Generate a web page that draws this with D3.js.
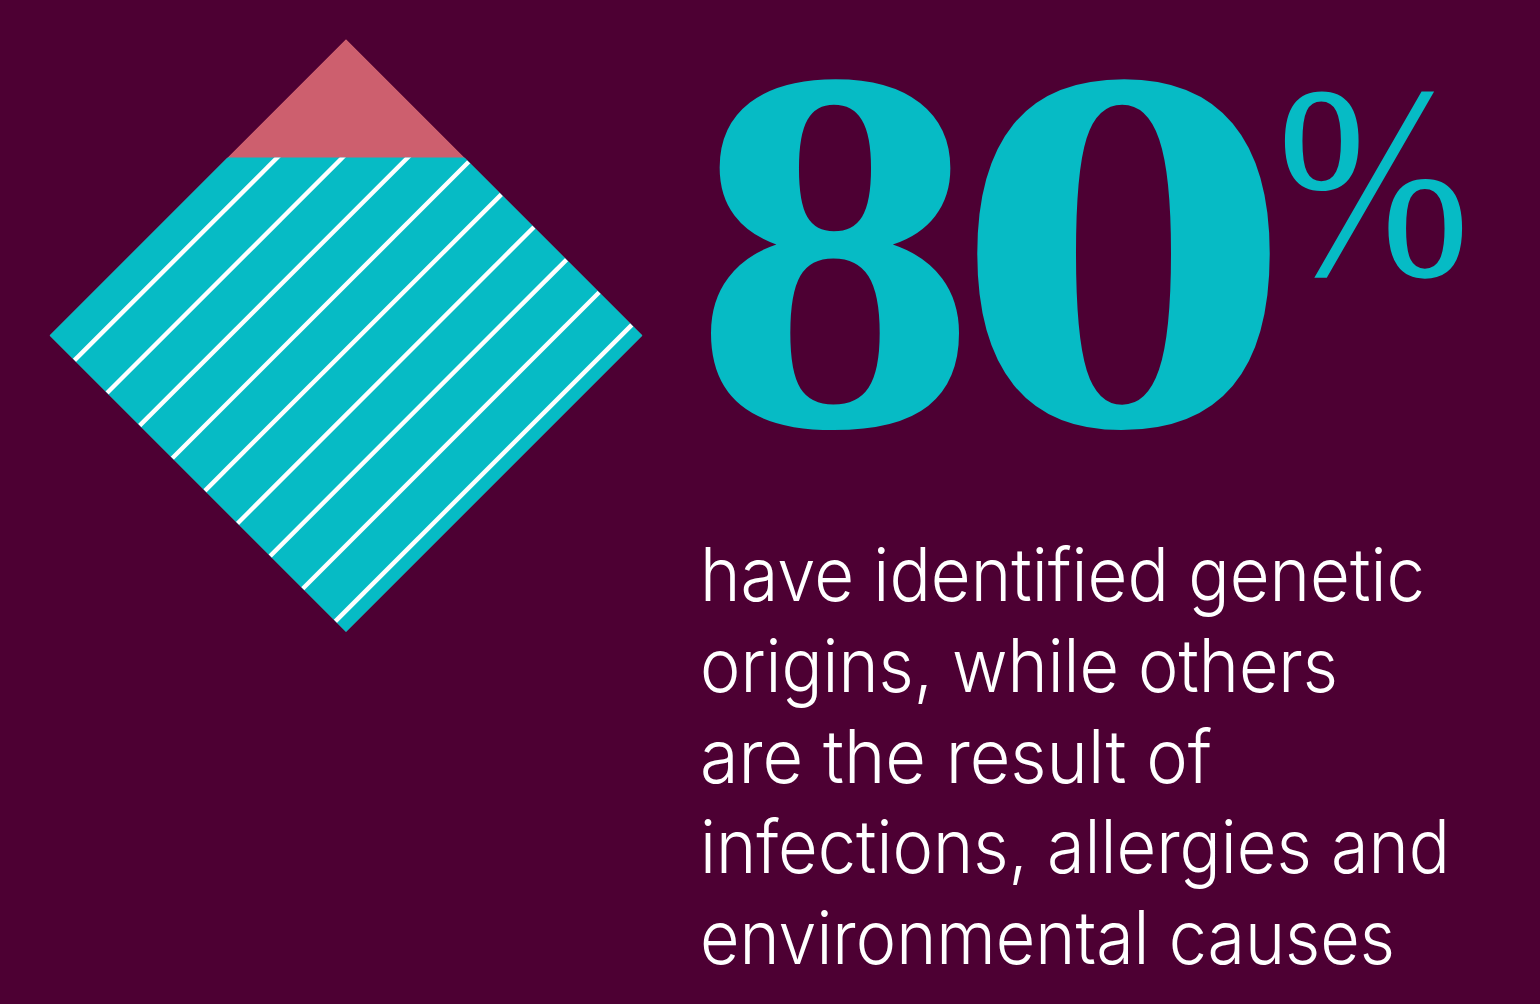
<!DOCTYPE html>
<html>
<head>
<meta charset="utf-8">
<script src="https://cdn.jsdelivr.net/npm/d3@7"></script>
<style>
  html, body { margin: 0; padding: 0; background: #4d0033; }
  svg { display: block; }
</style>
</head>
<body>
<svg id="chart" width="1540" height="1004"></svg>
<script>
// ---- data ----
const shareValue = 80;            // percent with identified genetic origins
const shareDigits = ["8", "0"];
const shareSymbol = "%";
const bodyLines = [
  "have identified genetic",
  "origins, while others",
  "are the result of",
  "infections, allergies and",
  "environmental causes"
];
const stripeCount = 9;

(function () {
// ---- styles ----
const BG = "#4d0033", CYAN = "#06bbc5", PINK = "#cd5f6e";

const svg = d3.select("#chart");
svg.append("rect").attr("width", 1540).attr("height", 1004).attr("fill", BG);

// diamond geometry
const cx = 346, cy = 335.5, half = 296.5;
const pTop = [cx, cy - half], pRight = [cx + half, cy], pBottom = [cx, cy + half], pLeft = [cx - half, cy];
const diamondD = d3.line()([pTop, pRight, pBottom, pLeft]) + "Z";

// vertical value scale: 0% at bottom tip, 100% at top tip
const yScale = d3.scaleLinear().domain([0, 100]).range([pBottom[1], pTop[1]]);
const yCut = yScale(shareValue);

const defs = svg.append("defs");
defs.append("clipPath").attr("id", "diamondClip")
  .append("path").attr("d", diamondD);
defs.append("clipPath").attr("id", "valueClip")
  .append("rect").attr("x", 0).attr("y", yCut).attr("width", 1540).attr("height", pBottom[1] - yCut + 2);

const g = svg.append("g").attr("clip-path", "url(#diamondClip)");
g.append("path").attr("d", diamondD).attr("fill", PINK);
const share = g.append("g").attr("clip-path", "url(#valueClip)");
share.append("rect").attr("x", pLeft[0]).attr("y", pTop[1]).attr("width", 2 * half).attr("height", 2 * half).attr("fill", CYAN);

// stripes parallel to the upper-left edge
const tScale = d3.scaleLinear().domain([0, stripeCount - 1]).range([0.084, 0.964]);
const lerp = (a, b, t) => [a[0] + (b[0] - a[0]) * t, a[1] + (b[1] - a[1]) * t];
share.selectAll("line.stripe").data(d3.range(stripeCount)).join("line")
  .attr("class", "stripe")
  .each(function (k) {
    const t = tScale(k);
    const p = lerp(pLeft, pBottom, t), q = lerp(pTop, pRight, t);
    d3.select(this).attr("x1", p[0]).attr("y1", p[1]).attr("x2", q[0]).attr("y2", q[1]);
  })
  .attr("stroke", "#ffffff").attr("stroke-width", 4.4);

// big number
const numSize = 520, numBase = 425;
const digitBoxes = [{x: 692, len: 286}, {x: 951, len: 345}];
svg.selectAll("text.digit").data(shareDigits).join("text")
  .attr("class", "digit")
  .attr("x", (d, i) => digitBoxes[i].x)
  .attr("y", numBase)
  .attr("textLength", (d, i) => digitBoxes[i].len)
  .attr("lengthAdjust", "spacingAndGlyphs")
  .attr("font-family", "'Liberation Serif', 'DejaVu Serif', serif")
  .attr("font-weight", 700)
  .attr("font-size", numSize)
  .attr("fill", CYAN)
  .text(d => d);

svg.append("text")
  .attr("x", 1277).attr("y", 275)
  .attr("textLength", 193).attr("lengthAdjust", "spacingAndGlyphs")
  .attr("font-family", "'Liberation Serif', 'DejaVu Serif', serif")
  .attr("font-weight", 400)
  .attr("font-size", 276)
  .attr("fill", CYAN)
  .text(shareSymbol);

// body text
const lineWidths = [725, 638, 512, 750, 695];
const lineY = d3.scaleLinear().domain([0, bodyLines.length - 1]).range([601, 964]);
svg.selectAll("text.body").data(bodyLines).join("text")
  .attr("class", "body")
  .attr("x", 700)
  .attr("y", (d, i) => lineY(i))
  .attr("textLength", (d, i) => lineWidths[i])
  .attr("lengthAdjust", "spacingAndGlyphs")
  .attr("font-family", "Inter, Lato, 'Open Sans', sans-serif")
  .attr("font-weight", 300)
  .attr("font-size", 74)
  .attr("fill", "#ffffff")
  .text(d => d);
})();
</script>
</body>
</html>
